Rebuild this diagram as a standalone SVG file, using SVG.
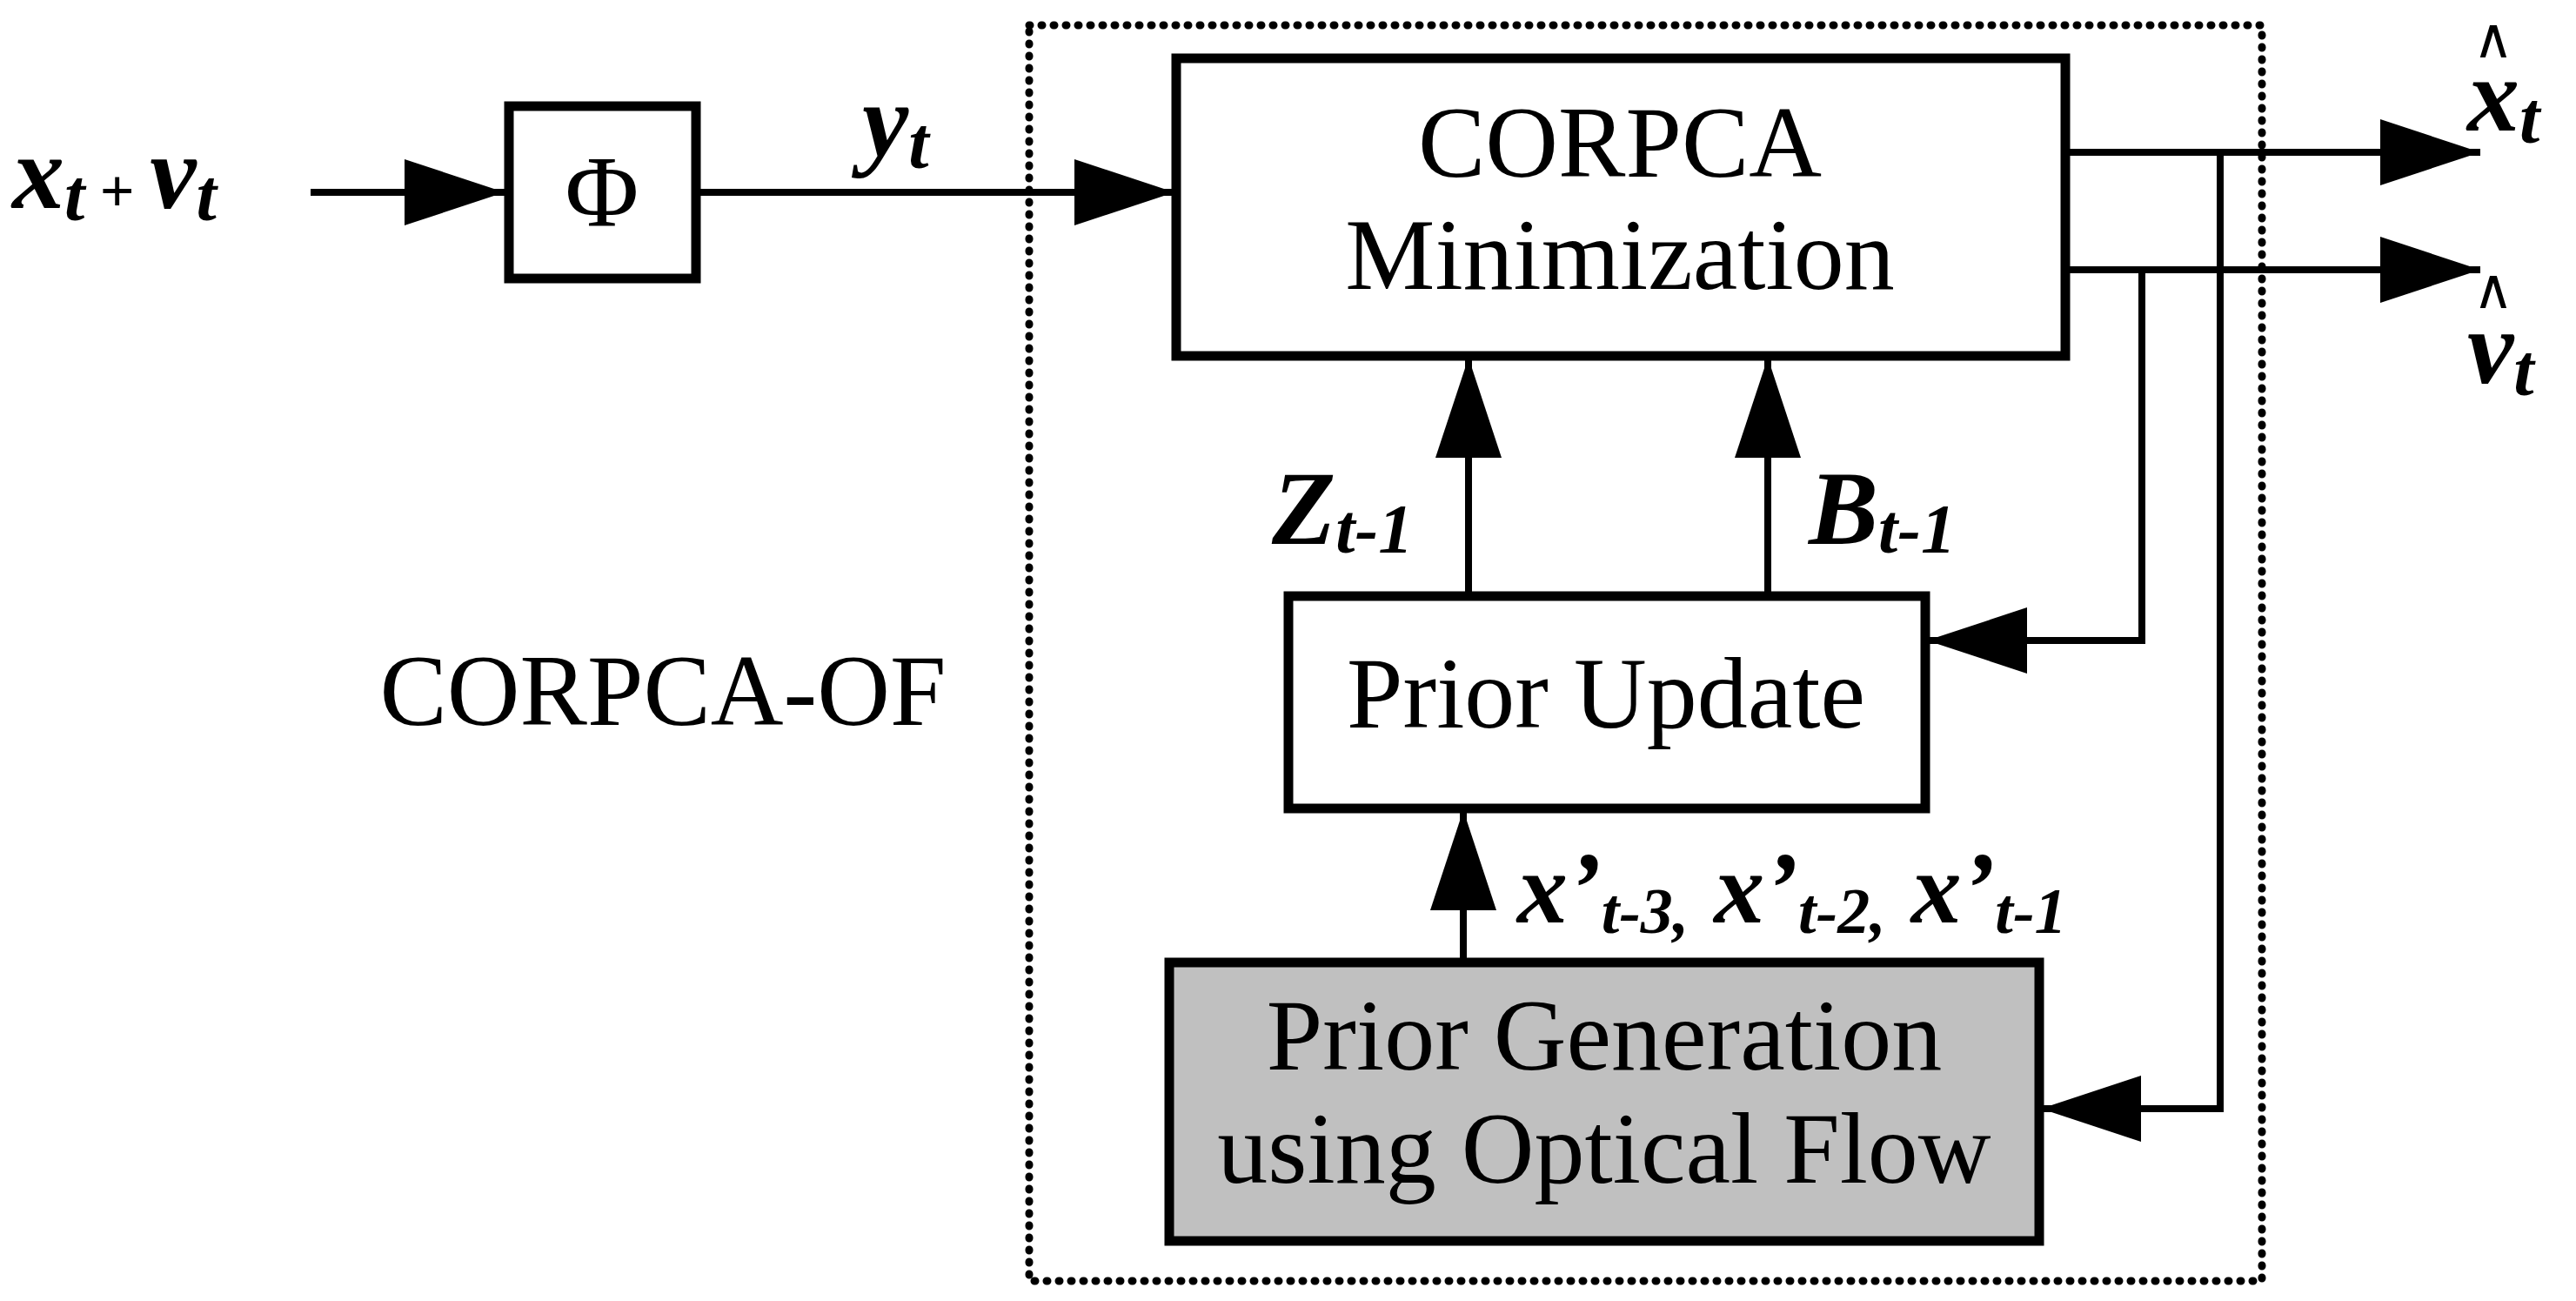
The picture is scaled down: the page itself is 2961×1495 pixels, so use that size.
<svg xmlns="http://www.w3.org/2000/svg" width="2961" height="1495" viewBox="0 0 2961 1495">
<style>
.box{fill:#fff;stroke:#000;stroke-width:11}
.ln{fill:none;stroke:#000;stroke-width:8}
.t{font-family:"Liberation Serif",serif;font-size:116px;fill:#000;text-anchor:middle}
.m{font-family:"Liberation Serif",serif;font-style:italic;font-weight:bold;fill:#000}
.hat{font-family:"DejaVu Sans",sans-serif;font-size:64px;fill:#000;text-anchor:middle}
</style>
<defs>
<marker id="ah" viewBox="0 0 115 76" refX="115" refY="38" markerWidth="115" markerHeight="76" markerUnits="userSpaceOnUse" orient="auto"><path d="M0,0 L115,38 L0,76 Z" fill="#000"/></marker>
</defs>
<rect x="1183" y="29" width="1417" height="1443" fill="none" stroke="#000" stroke-width="9" stroke-dasharray="1 13" stroke-linecap="round"/>
<g id="phi"><rect class="box" x="585" y="122" width="215" height="198"/><text class="t" x="692" y="260" font-size="120">Φ</text></g>
<g id="corpca"><rect class="box" x="1352" y="67" width="1022" height="342"/><text class="t" x="1862" y="203">CORPCA</text><text class="t" x="1862" y="332">Minimization</text></g>
<g id="update"><rect class="box" x="1481" y="685" width="732" height="244"/><text class="t" x="1846" y="836">Prior Update</text></g>
<g id="gen"><rect class="box" x="1344" y="1106" width="1000" height="320" style="fill:#c0c0c0"/><text class="t" x="1844" y="1229">Prior Generation</text><text class="t" x="1844" y="1359">using Optical Flow</text></g>
<g id="connectors">
<path class="ln" d="M357,221 H580" marker-end="url(#ah)"/>
<path class="ln" d="M800,221 H1350" marker-end="url(#ah)"/>
<path class="ln" d="M2374,175 H2851" marker-end="url(#ah)"/>
<path class="ln" d="M2374,310 H2851" marker-end="url(#ah)"/>
<path class="ln" d="M2462,310 V736 H2215" marker-end="url(#ah)"/>
<path class="ln" d="M2552,175 V1274 H2346" marker-end="url(#ah)"/>
<path class="ln" d="M1688,685 V411" marker-end="url(#ah)"/>
<path class="ln" d="M2032,685 V411" marker-end="url(#ah)"/>
<path class="ln" d="M1682,1106 V931" marker-end="url(#ah)"/>
</g>
<g id="labels">
<text class="m" x="14" y="239" font-size="120">x<tspan font-size="84" dy="14">t</tspan><tspan font-style="normal" font-weight="bold" font-size="70" dy="-10"> + </tspan><tspan dy="-4">v</tspan><tspan font-size="84" dy="14">t</tspan></text>
<text class="m" x="991" y="179" font-size="120">y<tspan font-size="84" dy="14">t</tspan></text>
<text class="m" x="2836" y="150" font-size="120">x<tspan font-size="84" dy="14">t</tspan></text>
<text class="hat" x="2866" y="66">∧</text>
<text class="m" x="2836" y="440" font-size="120">v<tspan font-size="84" dy="14">t</tspan></text>
<text class="hat" x="2866" y="354">∧</text>
<text class="m" x="1462" y="625" font-size="120">Z<tspan font-size="80" dy="10">t-1</tspan></text>
<text class="m" x="2079" y="625" font-size="120">B<tspan font-size="80" dy="10">t-1</tspan></text>
<text class="m" x="1744" y="1060" font-size="116">x’<tspan font-size="74" dy="12">t-3,</tspan><tspan dy="-12"> x’</tspan><tspan font-size="74" dy="12">t-2,</tspan><tspan dy="-12"> x’</tspan><tspan font-size="74" dy="12">t-1</tspan></text>
<text class="t" x="762" y="833">CORPCA-OF</text>
</g>
</svg>
